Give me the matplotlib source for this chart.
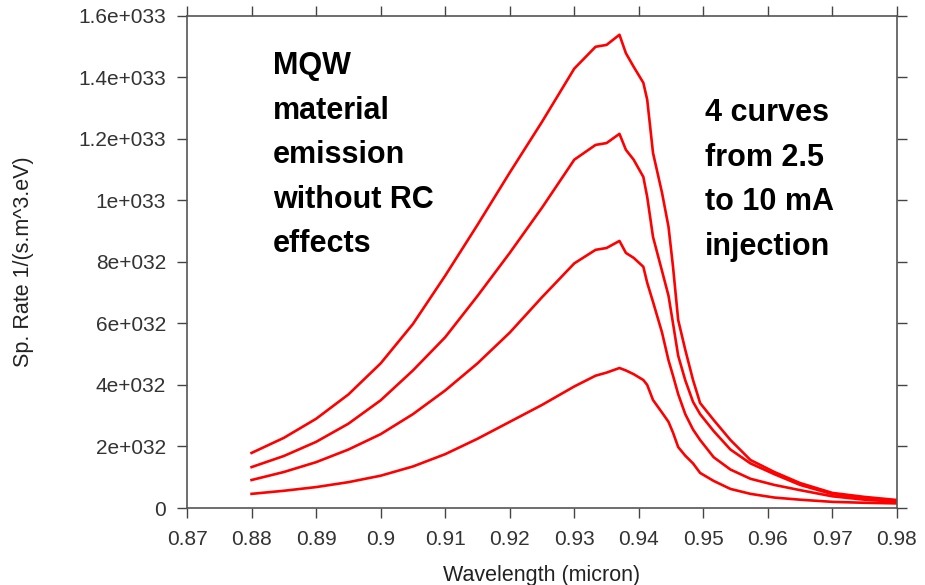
import numpy as np
import matplotlib
matplotlib.use("Agg")
import matplotlib.pyplot as plt
from matplotlib import font_manager

# shared wavelength grid (micron) for the four simulated spectra
wavelength = [0.880, 0.885, 0.890, 0.895, 0.900, 0.905, 0.910, 0.915, 0.920, 0.925,
              0.930, 0.9333, 0.9350, 0.9370, 0.9380, 0.9392, 0.9407, 0.9413, 0.9422, 0.9436,
              0.9446, 0.9453, 0.9461, 0.9472, 0.9484, 0.9495, 0.9516, 0.9542, 0.9573, 0.9610,
              0.9650, 0.9700, 0.9750, 0.9800]

# spontaneous emission rate in units of 1e33 1/(s.m^3.eV), one list per injection current
rate_2p5mA = [0.046, 0.056, 0.068, 0.084, 0.105, 0.135, 0.175, 0.225, 0.280, 0.335,
              0.395, 0.430, 0.440, 0.455, 0.447, 0.435, 0.416, 0.400, 0.351, 0.310,
              0.280, 0.245, 0.198, 0.170, 0.145, 0.114, 0.088, 0.062, 0.046, 0.034,
              0.027, 0.020, 0.017, 0.015]
rate_5mA = [0.091, 0.117, 0.149, 0.190, 0.240, 0.305, 0.382, 0.470, 0.570, 0.685,
            0.795, 0.839, 0.845, 0.868, 0.829, 0.813, 0.784, 0.732, 0.670, 0.570,
            0.480, 0.430, 0.370, 0.305, 0.255, 0.221, 0.165, 0.125, 0.095, 0.075,
            0.058, 0.038, 0.027, 0.020]
rate_7p5mA = [0.133, 0.169, 0.215, 0.274, 0.350, 0.447, 0.555, 0.689, 0.829, 0.976,
              1.132, 1.180, 1.186, 1.216, 1.164, 1.132, 1.076, 1.011, 0.881, 0.770,
              0.690, 0.600, 0.495, 0.415, 0.345, 0.305, 0.250, 0.190, 0.145, 0.110,
              0.075, 0.045, 0.032, 0.022]
rate_10mA = [0.179, 0.228, 0.290, 0.369, 0.470, 0.598, 0.755, 0.920, 1.090, 1.255,
             1.428, 1.499, 1.505, 1.538, 1.478, 1.434, 1.382, 1.327, 1.154, 1.024,
             0.914, 0.784, 0.611, 0.514, 0.416, 0.341, 0.286, 0.221, 0.156, 0.117,
             0.081, 0.049, 0.036, 0.026]

xtick_values = [0.87, 0.88, 0.89, 0.90, 0.91, 0.92, 0.93, 0.94, 0.95, 0.96, 0.97, 0.98]
xtick_labels = ["0.87", "0.88", "0.89", "0.9", "0.91", "0.92", "0.93", "0.94",
                "0.95", "0.96", "0.97", "0.98"]
ytick_values = [0, 2e32, 4e32, 6e32, 8e32, 1e33, 1.2e33, 1.4e33, 1.6e33]
ytick_labels = ["0", "2e+032", "4e+032", "6e+032", "8e+032", "1e+033",
                "1.2e+033", "1.4e+033", "1.6e+033"]

left_note = "MQW\nmaterial\nemission\nwithout RC\neffects"
right_note = "4 curves\nfrom 2.5\nto 10 mA\ninjection"

available = {f.name for f in font_manager.fontManager.ttflist}
if "Liberation Sans Narrow" in available:
    note_font, note_size = "Liberation Sans Narrow", 25
else:
    note_font, note_size = "Liberation Sans", 22

plt.rcParams["font.family"] = ["Liberation Sans", "DejaVu Sans"]

fig = plt.figure(figsize=(9.25, 5.85), dpi=100)
ax = fig.add_axes([0.2022, 0.1316, 0.7675, 0.8416])

for rate in (rate_2p5mA, rate_5mA, rate_7p5mA, rate_10mA):
    ax.plot(wavelength, np.array(rate) * 1e33, color="#ff0000", lw=1.9)

ax.set_xlim(0.87, 0.98)
ax.set_ylim(0, 1.6e33)
ax.set_xticks(xtick_values)
ax.set_xticklabels(xtick_labels)
ax.set_yticks(ytick_values)
ax.set_yticklabels(ytick_labels)
ax.tick_params(direction="out", length=7, width=1, color="#444444",
               labelcolor="#333333", labelsize=15, top=True, right=True)
ax.tick_params(axis="y", pad=8)
ax.tick_params(axis="x", pad=9)
for spine in ax.spines.values():
    spine.set_color("#555555")
    spine.set_linewidth(1.2)

ax.set_xlabel("Wavelength (micron)", fontsize=15.5, color="#222222", va="center")
ax.xaxis.set_label_coords(0.5, -0.138)
ax.set_ylabel("Sp. Rate 1/(s.m^3.eV)", fontsize=15.5, color="#222222", va="center")
ax.yaxis.set_label_coords(-0.23, 0.5)

# notes are anchored on the baseline of their last line
ax.text(0.121, 0.520, left_note, transform=ax.transAxes, ha="left", va="baseline",
        family=note_font, fontweight="bold", fontsize=note_size, linespacing=1.63)
ax.text(0.7296, 0.514, right_note, transform=ax.transAxes, ha="left", va="baseline",
        family=note_font, fontweight="bold", fontsize=note_size, linespacing=1.63)

fig.savefig("out.png", dpi=100, facecolor="white")
